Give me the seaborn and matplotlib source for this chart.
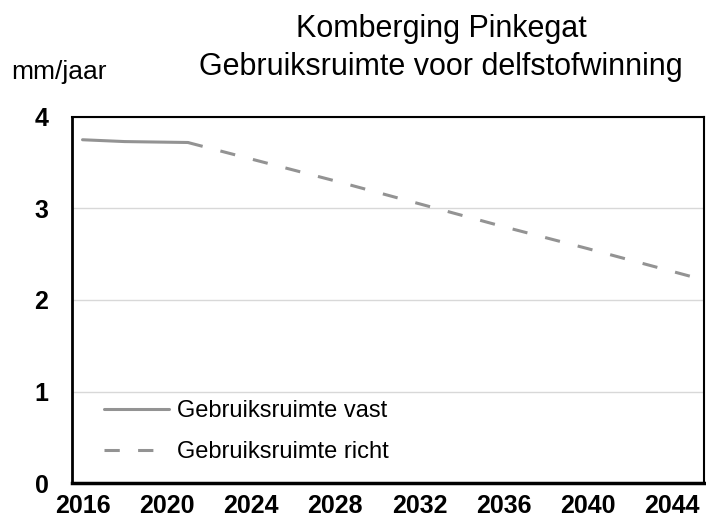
import pandas as pd
import matplotlib
matplotlib.use("Agg")
import matplotlib.pyplot as plt
import seaborn as sns

# values
years_vast = [2016, 2018, 2021]
vast = [3.75, 3.73, 3.72]
years_richt = [2021, 2024, 2028, 2032, 2036, 2040, 2045]
richt = [3.72, 3.54, 3.30, 3.05, 2.80, 2.56, 2.25]
xticks = [2016, 2020, 2024, 2028, 2032, 2036, 2040, 2044]
yticks = [0, 1, 2, 3, 4]

df = pd.concat([
    pd.DataFrame({"jaar": years_vast, "waarde": vast, "serie": "Gebruiksruimte vast"}),
    pd.DataFrame({"jaar": years_richt, "waarde": richt, "serie": "Gebruiksruimte richt"}),
])

sns.set_style("white")
plt.rcParams["font.family"] = ["Liberation Sans", "DejaVu Sans"]
plt.rcParams["text.color"] = "black"

fig = plt.figure(figsize=(7.06, 5.24), dpi=100)
ax = fig.add_axes([0.102, 0.078, 0.895, 0.699])

sns.lineplot(data=df, x="jaar", y="waarde", hue="serie", style="serie",
             palette=["#939393", "#939393"],
             dashes={"Gebruiksruimte vast": "", "Gebruiksruimte richt": (5, 6)},
             linewidth=2.2, ax=ax)

ax.set_xlim(2015.5, 2045.5)
ax.set_ylim(0, 4)
ax.set_xticks(xticks)
ax.set_yticks(yticks)
ax.set_xticklabels([str(t) for t in xticks], fontsize=18, fontweight="bold", color="black")
ax.set_yticklabels([str(t) for t in yticks], fontsize=18, fontweight="bold", color="black")
ax.tick_params(axis="x", length=0, pad=8)
ax.tick_params(axis="y", length=4, width=1, direction="in", pad=17, color="black")
ax.set_xlabel("")
ax.set_ylabel("")
ax.grid(axis="y", color="#d8d8d8", linewidth=1)
for s in ax.spines.values():
    s.set_color("black")
    s.set_linewidth(1.5)
ax.spines["bottom"].set_linewidth(2.5)
ax.spines["left"].set_linewidth(2)

leg = ax.legend(loc="lower left", bbox_to_anchor=(0.05, 0.055), frameon=False,
                fontsize=17, handlelength=2.75, handletextpad=0.35,
                labelspacing=0.8, borderaxespad=0, borderpad=0)

fig.text(0.625, 0.929, "Komberging Pinkegat", ha="center", va="baseline", fontsize=22)
fig.text(0.625, 0.857, "Gebruiksruimte voor delfstofwinning", ha="center", va="baseline", fontsize=22)
fig.text(0.016, 0.849, "mm/jaar", ha="left", va="baseline", fontsize=19)

fig.savefig("out.png", dpi=100)
